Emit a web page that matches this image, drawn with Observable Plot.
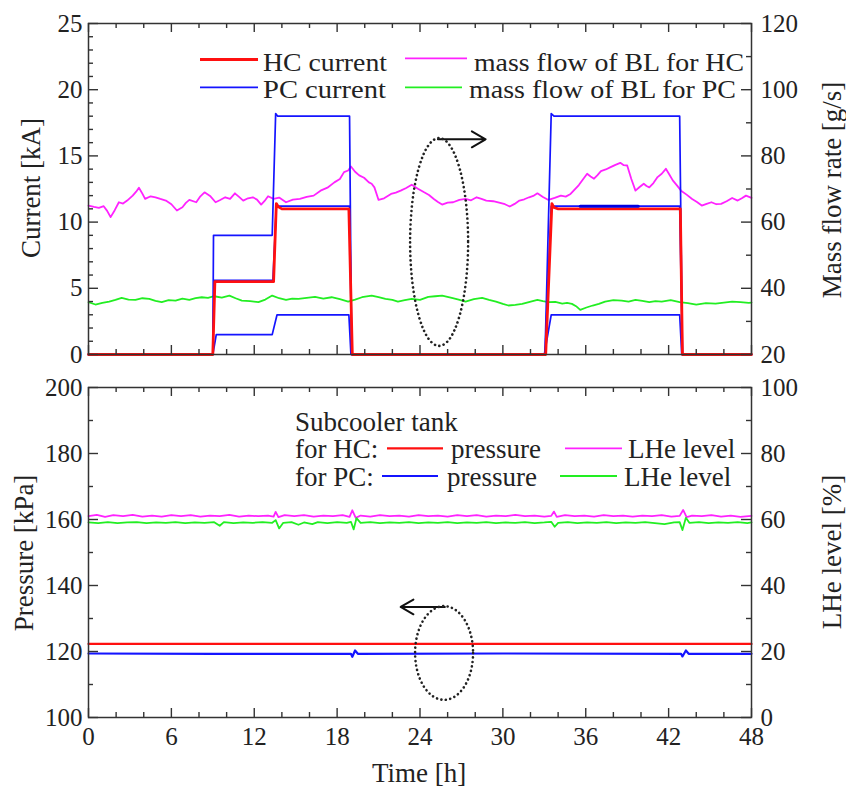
<!DOCTYPE html>
<html><head><meta charset="utf-8">
<script src="https://cdn.jsdelivr.net/npm/d3@7"></script>
<script src="https://cdn.jsdelivr.net/npm/@observablehq/plot@0.6"></script>
<style>
body{margin:0;background:#fff;width:846px;height:790px;overflow:hidden;font-family:"Liberation Serif","Times New Roman",serif}
svg{display:block}
svg text{font-family:"Liberation Serif","Times New Roman",serif !important}
</style></head><body><div id="chart"></div>
<script>
// ---------- DATA ----------
const timeTicks = [0, 6, 12, 18, 24, 30, 36, 42, 48];
const timeMinor = [2, 4, 8, 10, 14, 16, 20, 22, 26, 28, 32, 34, 38, 40, 44, 46];
const currentTicks = [0, 5, 10, 15, 20, 25];
const massTicks = [20, 40, 60, 80, 100, 120];
const pressureTicks = [100, 120, 140, 160, 180, 200];
const levelTicks = [0, 20, 40, 60, 80, 100];

// HC current [kA]
const hcT = [0, 9.0, 9.15, 13.4, 13.6, 13.75, 14.0, 18.85, 19.1, 33.1, 33.55, 33.7, 34.0, 42.85, 43.0, 48];
const hcI = [0, 0, 5.5, 5.5, 11.4, 11.15, 11.0, 11.0, 0, 0, 11.4, 11.1, 11.0, 11.0, 0, 0];
// PC currents [kA] (three coils)
const pc1T = [0, 9.0, 9.05, 13.3, 13.55, 13.7, 18.9, 19.05, 33.05, 33.5, 33.7, 42.8, 43.0, 48];
const pc1I = [0, 0, 9.0, 9.0, 18.2, 18.0, 18.0, 0, 0, 18.2, 18.0, 18.0, 0, 0];
const pc2T = [0, 9.0, 9.1, 13.35, 13.6, 18.9, 19.05, 33.05, 33.5, 42.8, 43.0, 48];
const pc2I = [0, 0, 5.6, 5.6, 11.2, 11.2, 0, 0, 11.2, 11.2, 0, 0];
const pc2BoldT = [35.6, 39.8];          // darker stretch of the 11.2 kA trace
const pc2BoldI = [11.2, 11.2];
const pc3T = [0, 9.0, 9.25, 13.3, 13.65, 18.85, 19.0, 33.0, 33.5, 42.8, 42.95, 48];
const pc3I = [0, 0, 1.5, 1.5, 3.0, 3.0, 0, 0, 3.0, 3.0, 0, 0];

// mass flow of BL for HC [g/s]
const mfHcT = [0, 0.4, 0.75, 1.1, 1.35, 1.6, 1.9, 2.2, 2.5, 2.8, 3.2, 3.45, 3.65, 3.9, 4.1, 4.5, 4.85, 5.2, 5.6, 6.0, 6.4, 6.8, 7.05, 7.3, 7.8, 8.1, 8.4, 8.8, 9.2, 9.5, 9.9, 10.25, 10.6, 10.9, 11.2, 11.55, 11.9, 12.2, 12.5, 12.75, 13.0, 13.4, 13.8, 14.3, 14.8, 15.3, 15.8, 16.3, 16.8, 17.3, 17.8, 18.2, 18.5, 18.8, 19.0, 19.3, 19.6, 19.95, 20.3, 20.5, 20.7, 21.0, 21.4, 21.9, 22.25, 22.6, 23.0, 23.4, 23.85, 24.3, 24.65, 25.0, 25.3, 25.6, 26.0, 26.4, 26.85, 27.3, 27.7, 28.1, 28.45, 28.8, 29.3, 29.8, 30.15, 30.5, 30.85, 31.2, 31.55, 31.9, 32.2, 32.5, 32.9, 33.3, 33.75, 34.2, 34.55, 34.9, 35.5, 36.1, 36.35, 36.6, 36.85, 37.1, 37.45, 37.8, 38.15, 38.5, 38.75, 39.0, 39.3, 39.6, 39.9, 40.2, 40.4, 40.6, 40.9, 41.2, 41.5, 41.8, 42.05, 42.3, 42.6, 42.9, 43.3, 43.7, 44.05, 44.4, 44.75, 45.1, 45.45, 45.8, 46.2, 46.6, 47.0, 47.3, 47.6, 48.0];
const mfHcV = [65.0, 64.6, 64.3, 64.8, 63.4, 61.5, 63.6, 66.0, 65.6, 66.5, 68.0, 69.2, 70.4, 68.6, 67.0, 67.8, 67.5, 67.0, 66.5, 65.4, 63.5, 64.5, 65.8, 66.7, 66.0, 67.8, 69.0, 67.9, 66.0, 66.6, 67.5, 67.0, 68.7, 67.6, 66.5, 67.2, 67.5, 66.8, 65.3, 66.4, 67.8, 67.0, 67.4, 66.0, 66.8, 67.0, 67.6, 68.0, 69.5, 70.4, 72.0, 73.0, 75.1, 75.6, 76.8, 75.2, 74.1, 73.4, 72.0, 71.6, 70.5, 66.7, 67.2, 68.5, 68.9, 69.5, 70.3, 71.3, 70.1, 69.0, 68.2, 67.0, 66.1, 65.3, 65.9, 66.0, 66.7, 67.0, 66.6, 67.5, 67.0, 66.5, 66.3, 65.8, 65.4, 64.7, 65.5, 66.5, 66.9, 67.5, 67.9, 68.7, 67.6, 66.7, 67.3, 68.0, 67.7, 68.5, 71.2, 74.6, 73.8, 73.1, 74.2, 75.4, 75.9, 76.6, 77.3, 77.9, 77.2, 77.1, 73.0, 69.5, 70.6, 71.6, 70.9, 70.5, 71.8, 73.6, 74.6, 76.1, 74.4, 72.6, 71.1, 69.5, 68.3, 67.0, 66.1, 65.0, 65.5, 66.0, 65.4, 65.5, 66.3, 67.3, 66.5, 67.2, 68.0, 67.3];
// mass flow of BL for PC [g/s]
const mfPcT = [0, 0.5, 1.0, 1.5, 1.95, 2.4, 2.9, 3.4, 3.9, 4.4, 4.85, 5.3, 5.8, 6.3, 6.8, 7.3, 7.75, 8.2, 8.65, 9.1, 9.65, 10.2, 10.65, 11.1, 11.7, 12.3, 12.8, 13.3, 13.8, 14.3, 14.75, 15.2, 15.8, 16.4, 17.0, 17.6, 18.2, 18.8, 19.3, 19.8, 20.5, 21.0, 21.5, 22.0, 22.4, 22.9, 23.4, 24.0, 24.6, 25.1, 25.6, 26.3, 26.8, 27.3, 27.9, 28.5, 29.0, 29.5, 30.0, 30.4, 30.9, 31.4, 31.95, 32.5, 32.9, 33.3, 33.8, 34.3, 34.65, 35.0, 35.3, 35.6, 36.05, 36.5, 36.95, 37.4, 38.0, 38.6, 39.1, 39.6, 40.1, 40.6, 41.05, 41.5, 42.15, 42.8, 43.4, 44.0, 44.7, 45.4, 46.0, 46.6, 47.2, 47.8, 48];
const mfPcV = [35.8, 35.1, 35.6, 36.0, 36.5, 37.1, 36.6, 36.5, 37.0, 36.8, 36.2, 35.8, 36.4, 36.3, 36.9, 36.5, 37.0, 37.3, 37.1, 37.6, 37.2, 37.8, 37.0, 36.3, 36.1, 35.8, 36.6, 37.8, 37.0, 36.5, 36.9, 36.8, 37.1, 37.4, 36.9, 37.3, 36.7, 36.0, 36.6, 37.3, 37.8, 37.3, 36.8, 36.5, 36.0, 36.4, 36.8, 36.5, 37.4, 37.6, 37.8, 37.1, 36.6, 36.0, 36.7, 37.1, 36.5, 36.0, 35.3, 34.8, 35.0, 35.3, 35.9, 36.5, 36.1, 35.8, 35.9, 35.4, 35.6, 35.3, 34.6, 33.5, 34.2, 34.8, 35.3, 36.0, 36.4, 36.3, 36.0, 36.5, 36.2, 35.8, 36.1, 36.0, 36.4, 35.8, 35.5, 35.1, 35.5, 35.4, 35.7, 36.0, 35.8, 35.6, 35.7];

// subcooler tank pressure [kPa]
const pHcT = [0, 12, 24, 36, 48];
const pHcV = [122.3, 122.3, 122.3, 122.3, 122.3];
const pPcT = [0, 9, 16.7, 19.0, 19.1, 19.3, 19.5, 30, 42.9, 43.0, 43.25, 43.45, 48];
const pPcV = [119.4, 119.3, 119.3, 119.3, 118.4, 120.3, 119.3, 119.4, 119.3, 118.5, 120.3, 119.3, 119.3];
// subcooler tank LHe level [%]
const lHcT = [0, 0.6, 1.2, 1.8, 2.5, 3.2, 3.9, 4.6, 5.3, 6.0, 6.7, 7.4, 8.1, 8.8, 9.5, 10.2, 10.9, 11.6, 12.3, 13.0, 13.4, 13.55, 13.75, 14.2, 14.9, 15.6, 16.3, 17.0, 17.7, 18.4, 18.9, 19.1, 19.35, 19.7, 20.4, 21.1, 21.8, 22.5, 23.2, 23.9, 24.6, 25.3, 26.0, 26.7, 27.4, 28.1, 28.8, 29.5, 30.2, 30.9, 31.6, 32.3, 33.0, 33.5, 33.7, 33.9, 34.5, 35.2, 35.9, 36.6, 37.3, 38.0, 38.7, 39.4, 40.1, 40.8, 41.5, 42.2, 42.8, 43.05, 43.3, 43.7, 44.4, 45.1, 45.8, 46.5, 47.2, 48];
const lHcV = [61.0, 61.4, 60.8, 61.3, 61.0, 61.4, 60.9, 61.2, 60.9, 61.3, 61.0, 61.3, 60.9, 61.2, 61.0, 61.4, 60.9, 61.2, 61.0, 61.2, 60.9, 62.3, 60.7, 61.3, 61.0, 61.3, 60.9, 61.2, 61.0, 61.3, 60.8, 62.8, 60.5, 61.2, 60.9, 61.3, 61.0, 61.2, 60.9, 61.3, 61.0, 61.2, 60.9, 61.3, 61.0, 61.3, 60.9, 61.2, 61.0, 61.4, 61.0, 61.2, 60.9, 61.1, 62.4, 60.8, 61.3, 61.0, 61.2, 60.9, 61.3, 61.0, 61.2, 60.9, 61.2, 61.0, 61.3, 60.9, 61.1, 62.9, 60.7, 61.2, 61.0, 61.3, 60.9, 61.2, 60.8, 61.1];
const lPcT = [0, 0.7, 1.4, 2.1, 2.8, 3.5, 4.2, 4.9, 5.6, 6.3, 7.0, 7.7, 8.4, 9.1, 9.5, 9.8, 10.5, 11.2, 11.9, 12.6, 13.3, 13.55, 13.8, 14.1, 14.7, 15.2, 15.6, 16.2, 16.6, 17.3, 18.0, 18.7, 19.0, 19.2, 19.4, 19.7, 20.4, 21.1, 21.8, 22.5, 23.2, 23.9, 24.6, 25.3, 26.0, 26.7, 27.4, 28.1, 28.8, 29.5, 30.2, 30.9, 31.6, 32.3, 33.0, 33.5, 33.75, 34.0, 34.7, 35.4, 36.1, 36.8, 37.5, 38.2, 38.9, 39.6, 40.3, 41.0, 41.7, 42.4, 42.8, 43.0, 43.25, 43.5, 44.2, 44.9, 45.6, 46.3, 47.0, 47.7, 48];
const lPcV = [59.1, 58.9, 59.2, 58.9, 59.1, 59.2, 58.9, 59.1, 59.0, 59.2, 58.9, 59.1, 59.0, 59.2, 58.1, 59.2, 58.9, 59.1, 59.0, 59.2, 59.0, 59.8, 57.3, 59.0, 59.2, 58.4, 59.1, 58.6, 59.2, 58.9, 59.2, 59.0, 59.3, 57.0, 60.4, 59.0, 59.2, 58.9, 59.1, 59.0, 59.2, 58.9, 59.1, 59.0, 59.2, 58.9, 59.1, 59.0, 59.2, 58.9, 59.1, 59.0, 59.2, 58.9, 59.1, 59.3, 57.8, 59.0, 59.2, 58.9, 59.1, 59.0, 59.2, 58.9, 59.1, 59.0, 59.2, 58.9, 58.6, 59.1, 59.2, 56.8, 60.5, 59.0, 59.2, 58.9, 59.1, 59.0, 59.2, 58.9, 59.1];

// annotations (ellipse centre / radii in data units; arrows)
const topEllipse = {t: 25.42, v: 8.46, rt: 2.1, rv: 7.85};
const botEllipse = {t: 25.78, v: 119.4, rt: 2.1, rv: 14.2};
const topArrow = [{x1: 25.3, y1: 16.25, x2: 28.75, y2: 16.25}];
const botArrow = [{x1: 25.8, y1: 133.5, x2: 22.6, y2: 133.5}];

// ---------- BUILD ----------
const zip = (T, V) => T.map((t, i) => ({t, v: V[i]}));
const RED = "#ff1010", BLUE = "#1414ff", MAG = "#ff22ff", GRN = "#22ee22", INK = "#222";
const FONT = "Liberation Serif, Times New Roman, serif";
const W = 846, ML = 88, MR = 95;
const FW = W - ML - MR;
const TICK = 10, MINOR = 5;

function tickMarks(yMajor, yMinor, yMajorR, yMinorR, FH) {
  const s = {stroke: "#333", strokeWidth: 1.4};
  return [
    Plot.tickY(yMajor, {y: d => d, insetRight: FW - TICK, ...s}),
    Plot.tickY(yMinor, {y: d => d, insetRight: FW - MINOR, ...s}),
    Plot.tickY(yMajorR, {y: d => d, insetLeft: FW - TICK, ...s}),
    Plot.tickY(yMinorR, {y: d => d, insetLeft: FW - MINOR, ...s}),
    Plot.tickX(timeTicks, {x: d => d, insetTop: FH - 9, ...s}),
    Plot.tickX(timeMinor, {x: d => d, insetTop: FH - 5, ...s}),
    Plot.tickX(timeTicks, {x: d => d, insetBottom: FH - 9, ...s}),
    Plot.tickX(timeMinor, {x: d => d, insetBottom: FH - 5, ...s})
  ];
}

// top panel
const topH = 360, topMT = 23, topMB = 6, topFH = topH - topMT - topMB;
const curMinor = d3.range(0, 26).filter(d => d % 5 !== 0);
const massMinorPos = [30, 50, 70, 90, 110].map(m => (m - 20) / 4);
const massPos = m => (m - 20) / 4;

const topPlot = Plot.plot({
  width: W, height: topH, marginLeft: ML, marginRight: MR, marginTop: topMT, marginBottom: topMB,
  x: {domain: [0, 48], axis: null},
  y: {domain: [0, 25]},
  style: {fontFamily: FONT, fontSize: "25px", color: INK, background: "white", overflow: "visible"},
  marks: [
    Plot.line(zip(mfHcT, mfHcV), {x: "t", y: d => massPos(d.v), stroke: MAG, strokeWidth: 1.8}),
    Plot.line(zip(mfPcT, mfPcV), {x: "t", y: d => massPos(d.v), stroke: GRN, strokeWidth: 1.8}),
    Plot.line(zip(pc3T, pc3I), {x: "t", y: "v", stroke: BLUE, strokeWidth: 1.7}),
    Plot.line(zip(pc2T, pc2I), {x: "t", y: "v", stroke: BLUE, strokeWidth: 1.7}),
    Plot.line(zip(pc1T, pc1I), {x: "t", y: "v", stroke: BLUE, strokeWidth: 1.7}),
    Plot.line(zip(hcT, hcI), {x: "t", y: "v", stroke: RED, strokeWidth: 2.8}),
    Plot.line(zip(pc2BoldT, pc2BoldI), {x: "t", y: "v", stroke: "#0000e0", strokeWidth: 3}),
    Plot.arrow(topArrow, {x1: "x1", y1: "y1", x2: "x2", y2: "y2", stroke: "#111", strokeWidth: 2, headLength: 14}),
    Plot.frame({stroke: "#333", strokeWidth: 1.5}),
    ...tickMarks(currentTicks, curMinor, currentTicks, massMinorPos, topFH),
    Plot.axisY({ticks: currentTicks, tickSize: 0, tickPadding: 6, label: null, fontSize: 25}),
    Plot.axisY({anchor: "right", ticks: massTicks.map(massPos), tickFormat: d => d * 4 + 20, tickSize: 0, tickPadding: 9, label: null, fontSize: 25})
  ]
});

// bottom panel
const botH = 430, botMT = 27, botMB = 73, botFH = botH - botMT - botMB;
const presMinor = [110, 130, 150, 170, 190];
const lvlPos = l => l + 100;
const lvlMinorPos = [10, 30, 50, 70, 90].map(lvlPos);

const botPlot = Plot.plot({
  width: W, height: botH, marginLeft: ML, marginRight: MR, marginTop: botMT, marginBottom: botMB,
  x: {domain: [0, 48]},
  y: {domain: [100, 200]},
  style: {fontFamily: FONT, fontSize: "25px", color: INK, background: "white", overflow: "visible"},
  marks: [
    Plot.line(zip(lHcT, lHcV), {x: "t", y: d => lvlPos(d.v), stroke: MAG, strokeWidth: 1.8}),
    Plot.line(zip(lPcT, lPcV), {x: "t", y: d => lvlPos(d.v), stroke: GRN, strokeWidth: 1.8}),
    Plot.line(zip(pHcT, pHcV), {x: "t", y: "v", stroke: RED, strokeWidth: 2.2}),
    Plot.line(zip(pPcT, pPcV), {x: "t", y: "v", stroke: BLUE, strokeWidth: 2.2}),
    Plot.arrow(botArrow, {x1: "x1", y1: "y1", x2: "x2", y2: "y2", stroke: "#111", strokeWidth: 2, headLength: 14}),
    Plot.frame({stroke: "#333", strokeWidth: 1.5}),
    ...tickMarks(pressureTicks, presMinor, pressureTicks, lvlMinorPos, botFH),
    Plot.axisY({ticks: pressureTicks, tickSize: 0, tickPadding: 6, label: null, fontSize: 25}),
    Plot.axisY({anchor: "right", ticks: levelTicks.map(lvlPos), tickFormat: d => d - 100, tickSize: 0, tickPadding: 9, label: null, fontSize: 25}),
    Plot.axisX({ticks: timeTicks, tickSize: 0, tickPadding: 10, label: null, fontSize: 25})
  ]
});

// ellipses via the plot scales
function addEllipse(plot, e) {
  const sx = plot.scale("x"), sy = plot.scale("y");
  const cx = sx.apply(e.t), cy = sy.apply(e.v);
  const rx = Math.abs(sx.apply(e.t + e.rt) - cx), ry = Math.abs(sy.apply(e.v + e.rv) - cy);
  d3.select(plot).append("ellipse")
    .attr("cx", cx).attr("cy", cy).attr("rx", rx).attr("ry", ry)
    .attr("fill", "none").attr("stroke", "#222").attr("stroke-width", 2.6)
    .attr("stroke-dasharray", "0.1 4.4").attr("stroke-linecap", "round");
}
addEllipse(topPlot, topEllipse);
addEllipse(botPlot, botEllipse);

// text helpers
function txt(svg, x, y, s, opts = {}) {
  const t = d3.select(svg).append("text")
    .attr("fill", INK).attr("font-family", FONT).attr("font-size", opts.size || 27)
    .attr("text-anchor", opts.anchor || "start")
    .attr("transform", `translate(${x},${y})` + (opts.rotate ? ` rotate(${opts.rotate})` : ""))
    .text(s);
  if (opts.middle) t.attr("dy", "0.35em");
  if (opts.len) t.attr("textLength", opts.len).attr("lengthAdjust", "spacingAndGlyphs");
  return t;
}
function legLine(svg, x1, x2, y, color, w) {
  d3.select(svg).append("line").attr("x1", x1).attr("x2", x2).attr("y1", y).attr("y2", y)
    .attr("stroke", color).attr("stroke-width", w);
}

// axis titles
txt(topPlot, 31, 188, "Current [kA]", {anchor: "middle", rotate: -90, middle: true});
txt(topPlot, 832, 190, "Mass flow rate [g/s]", {anchor: "middle", rotate: -90, middle: true});
txt(botPlot, 24, 193, "Pressure [kPa]", {anchor: "middle", rotate: -90, middle: true});
txt(botPlot, 832, 192, "LHe level [%]", {anchor: "middle", rotate: -90, middle: true});
txt(botPlot, 419, 422, "Time [h]", {anchor: "middle"});

// legends
legLine(topPlot, 200, 258, 59.5, RED, 2.8); txt(topPlot, 263, 71, "HC current", {size: 26, len: 124});
legLine(topPlot, 200, 258, 87.3, BLUE, 1.8); txt(topPlot, 263, 98, "PC current", {size: 26, len: 123});
legLine(topPlot, 405, 467, 58.3, MAG, 1.8); txt(topPlot, 474, 71, "mass flow of BL for HC", {size: 26, len: 270});
legLine(topPlot, 405, 462, 87.3, GRN, 1.8); txt(topPlot, 469, 98, "mass flow of BL for PC", {size: 26, len: 267});

txt(botPlot, 295, 70.7, "Subcooler tank");
txt(botPlot, 295, 98.3, "for HC:");
legLine(botPlot, 387, 443, 88.3, RED, 2.2); txt(botPlot, 451, 98.3, "pressure");
legLine(botPlot, 565, 622, 88.3, MAG, 1.8); txt(botPlot, 628, 98.3, "LHe level");
txt(botPlot, 295, 126, "for PC:");
legLine(botPlot, 382, 438, 116, BLUE, 2.2); txt(botPlot, 447, 126, "pressure");
legLine(botPlot, 560, 617, 116, GRN, 1.8); txt(botPlot, 624, 126, "LHe level");

const root = document.getElementById("chart");
root.appendChild(topPlot);
root.appendChild(botPlot);
</script></body></html>
